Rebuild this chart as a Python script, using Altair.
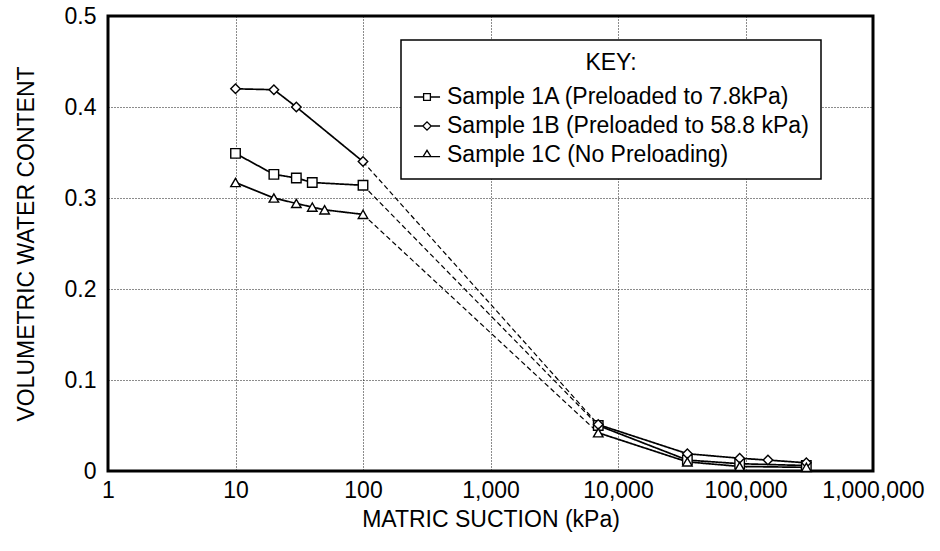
import altair as alt
import pandas as pd

# ---- data ----
samples = [
    "Sample 1A (Preloaded to 7.8kPa)",
    "Sample 1B (Preloaded to 58.8 kPa)",
    "Sample 1C (No Preloading)",
]
suction_1a = [10, 20, 30, 40, 100, 7000, 35000, 90000, 300000]
theta_1a = [0.349, 0.326, 0.322, 0.317, 0.314, 0.050, 0.012, 0.008, 0.006]

suction_1b = [10, 20, 30, 100, 7000, 35000, 90000, 150000, 300000]
theta_1b = [0.420, 0.419, 0.400, 0.340, 0.051, 0.019, 0.014, 0.012, 0.009]

suction_1c = [10, 20, 30, 40, 50, 100, 7000, 35000, 90000, 300000]
theta_1c = [0.317, 0.300, 0.294, 0.290, 0.287, 0.282, 0.042, 0.010, 0.005, 0.004]

x_ticks = [1, 10, 100, 1000, 10000, 100000, 1000000]
y_ticks = [0, 0.1, 0.2, 0.3, 0.4, 0.5]

series = [(samples[0], suction_1a, theta_1a),
          (samples[1], suction_1b, theta_1b),
          (samples[2], suction_1c, theta_1c)]

pts, segs = [], []
for name, xs, ys in series:
    for x, y in zip(xs, ys):
        pts.append({"sample": name, "suction": x, "theta": y})
    for i in range(len(xs) - 1):
        style = "dashed" if (xs[i] <= 100 and xs[i + 1] >= 1000) else "solid"
        sid = f"{name}-{i}"
        for j in (i, i + 1):
            segs.append({"sample": name, "seg": sid, "style": style,
                         "suction": xs[j], "theta": ys[j]})
pts_df = pd.DataFrame(pts)
seg_df = pd.DataFrame(segs)

FONT = "Liberation Sans"
FS = 23

x_enc = alt.X("suction:Q",
              scale=alt.Scale(type="log", domain=[1, 1000000], nice=False),
              axis=alt.Axis(values=x_ticks, format=",", title="MATRIC SUCTION (kPa)",
                            grid=True, tickSize=0, labelPadding=8, titlePadding=6,
                            domain=False, labelFlush=False))
y_enc = alt.Y("theta:Q",
              scale=alt.Scale(domain=[0, 0.5], nice=False),
              axis=alt.Axis(values=y_ticks, format=".1~f", title="VOLUMETRIC WATER CONTENT",
                            grid=True, tickSize=0, labelPadding=12, titlePadding=26,
                            domain=False))

lines = alt.Chart(seg_df).mark_line(color="black").encode(
    x=x_enc, y=y_enc,
    detail="seg:N",
    strokeDash=alt.StrokeDash("style:N",
                              scale=alt.Scale(domain=["solid", "dashed"], range=[[1, 0], [5, 3]]),
                              legend=None),
    strokeWidth=alt.StrokeWidth("style:N",
                                scale=alt.Scale(domain=["solid", "dashed"], range=[1.7, 1.2]),
                                legend=None),
)

markers = alt.Chart(pts_df).mark_point(filled=True, fill="white", stroke="black",
                                        strokeWidth=1.4, size=90, opacity=1).encode(
    x="suction:Q", y="theta:Q",
    shape=alt.Shape("sample:N",
                    scale=alt.Scale(domain=samples, range=["square", "diamond", "triangle-up"]),
                    legend=None),
)

legend_paths = [
    "M-1,0H-0.26M0.26,0H1M-0.26,-0.26H0.26V0.26H-0.26Z",
    "M-1,0H-0.32M0.32,0H1M-0.32,0L0,-0.32L0.32,0L0,0.32Z",
    "M-1,0.12H-0.3M0.3,0.12H1M-0.3,0.12L0,-0.36L0.3,0.12Z",
]
key = alt.Chart(pts_df).transform_filter("false").mark_point(
    filled=False, stroke="black", strokeWidth=1.3, opacity=1).encode(
    shape=alt.Shape("sample:N",
                    scale=alt.Scale(domain=samples, range=legend_paths),
                    legend=alt.Legend(title="KEY:", orient="none", legendX=293, legendY=24,
                                      padding=12, strokeColor="black", fillColor="white",
                                      titleAnchor="middle", titleFontWeight="normal",
                                      titleFontSize=FS, titleFont=FONT, titleColor="black",
                                      titlePadding=8, labelFont=FONT, labelFontSize=FS,
                                      labelColor="black", labelOffset=6, rowPadding=3,
                                      symbolSize=680, symbolStrokeWidth=1.3,
                                      symbolStrokeColor="black", symbolOpacity=1,
                                      labelLimit=600)),
)

chart = alt.layer(lines, markers, key).resolve_scale(
    shape="independent", strokeDash="independent"
).properties(
    width=765, height=455,
    autosize=alt.AutoSizeParams(type="none"),
    padding={"left": 108, "top": 16, "right": 67, "bottom": 80},
).configure_view(
    stroke="black", strokeWidth=3
).configure_axis(
    labelFont=FONT, labelFontSize=FS, labelColor="black",
    titleFont=FONT, titleFontSize=FS, titleFontWeight="normal", titleColor="black",
    gridColor="black", gridDash=[1, 2], gridWidth=1, gridOpacity=0.9,
).configure_legend(
    strokeWidth=1.5
)

chart.save("out.html", embed_options={"renderer": "svg", "actions": False})
